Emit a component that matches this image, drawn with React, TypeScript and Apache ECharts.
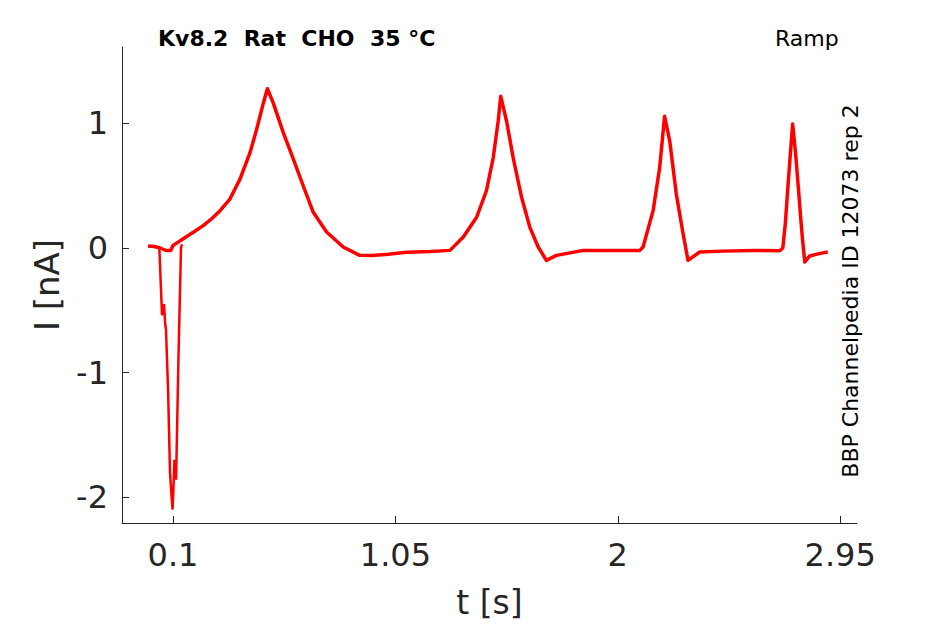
import React, { useEffect, useRef } from "react";
import * as echarts from "echarts";

// Main current trace (t in s, I in nA)
const traceT = [
  -0.007, 0.02, 0.045, 0.07, 0.09, 0.1, 0.12, 0.144, 0.19, 0.229, 0.265, 0.301,
  0.343, 0.386, 0.429, 0.457, 0.486, 0.503, 0.528, 0.571, 0.614, 0.656, 0.699,
  0.756, 0.827, 0.897, 0.95, 1.02, 1.098, 1.2, 1.283, 1.34, 1.397, 1.439, 1.468,
  1.489, 1.5, 1.525, 1.553, 1.589, 1.624, 1.66, 1.695, 1.738, 1.852, 1.98,
  2.094, 2.108, 2.151, 2.179, 2.2, 2.222, 2.25, 2.279, 2.3, 2.35, 2.45, 2.58,
  2.692, 2.705, 2.716, 2.726, 2.737, 2.747, 2.76, 2.772, 2.782, 2.789, 2.799,
  2.82, 2.86, 2.897,
];
const traceI = [
  0.016, 0.012, 0.0, -0.02, -0.02, 0.02, 0.045, 0.074, 0.13, 0.18, 0.235, 0.3,
  0.393, 0.553, 0.766, 0.952, 1.165, 1.279, 1.165, 0.926, 0.713, 0.5, 0.287,
  0.128, 0.008, -0.059, -0.06, -0.05, -0.034, -0.028, -0.019, 0.088, 0.247,
  0.46, 0.726, 1.018, 1.218, 1.018, 0.726, 0.407, 0.168, 0.008, -0.099, -0.059,
  -0.019, -0.02, -0.019, 0.008, 0.3, 0.646, 1.058, 0.859, 0.433, 0.114, -0.099,
  -0.032, -0.025, -0.02, -0.022, 0.0, 0.2, 0.47, 0.75, 0.996, 0.75, 0.47, 0.23,
  0.072, -0.112, -0.064, -0.045, -0.032,
];

// Fast inward artifact at the start of the sweep
const artifactT = [
  0.02, 0.0415, 0.053, 0.0616, 0.066, 0.07, 0.079, 0.087, 0.094, 0.098, 0.102,
  0.106, 0.113, 0.123, 0.134, 0.138,
];
const artifactI = [
  0.012, 0.0, -0.54, -0.45, -0.6, -0.66, -1.15, -1.8, -2.0, -2.1, -1.92, -1.7,
  -1.86, -0.9, 0.0, 0.03,
];

const xTicks = [0.1, 1.05, 2, 2.95];
const yTicks = [-2, -1, 0, 1];

const titleText = "Kv8.2  Rat  CHO  35 °C";
const protocolText = "Ramp";
const sideText = "BBP Channelpedia ID 12073 rep 2";

const FONT = "DejaVu Sans";
const AX = "#262626";

export default function App() {
  const ref = useRef<HTMLDivElement>(null);
  useEffect(() => {
    if (!ref.current) return;
    const chart = echarts.init(ref.current, undefined, { renderer: "svg" });
    const trace = traceT.map((t, i) => [t, traceI[i]]);
    const artifact = artifactT.map((t, i) => [t, artifactI[i]]);
    chart.setOption({
      animation: false,
      backgroundColor: "#ffffff",
      grid: { left: 122, top: 47, right: 88, bottom: 98, containLabel: false },
      xAxis: {
        type: "value",
        min: -0.118,
        max: 3.022,
        name: "t [s]",
        nameLocation: "middle",
        nameGap: 63,
        nameTextStyle: { fontFamily: FONT, fontSize: 33, color: AX },
        axisLine: { show: true, onZero: false, lineStyle: { color: AX, width: 1 } },
        axisTick: { show: true, inside: true, length: 7, customValues: xTicks, lineStyle: { color: AX } },
        axisLabel: {
          customValues: xTicks,
          margin: 16,
          fontFamily: FONT,
          fontSize: 32,
          color: AX,
          formatter: (v: number) => String(v),
        },
        splitLine: { show: false },
      },
      yAxis: {
        type: "value",
        min: -2.208,
        max: 1.614,
        name: "I [nA]",
        nameLocation: "middle",
        nameGap: 58,
        nameTextStyle: { fontFamily: FONT, fontSize: 34, color: AX },
        axisLine: { show: true, onZero: false, lineStyle: { color: AX, width: 1 } },
        axisTick: { show: true, inside: true, length: 7, customValues: yTicks, lineStyle: { color: AX } },
        axisLabel: {
          customValues: yTicks,
          margin: 14,
          fontFamily: FONT,
          fontSize: 32,
          color: AX,
          formatter: (v: number) => String(v),
        },
        splitLine: { show: false },
      },
      graphic: [
        {
          type: "text",
          left: 158,
          top: 27,
          style: { text: titleText, font: `bold 22px "${FONT}"`, fill: "#000000" },
        },
        {
          type: "text",
          left: 775,
          top: 27,
          style: { text: protocolText, font: `22px "${FONT}"`, fill: "#000000" },
        },
        {
          type: "text",
          x: 850,
          y: 291,
          rotation: Math.PI / 2,
          style: {
            text: sideText,
            font: `22px "${FONT}"`,
            fill: "#000000",
            align: "center",
            verticalAlign: "middle",
          },
        },
      ],
      series: [
        {
          type: "line",
          data: trace,
          showSymbol: false,
          lineStyle: { color: "#ff0000", width: 3.5, join: "round" },
          z: 3,
        },
        {
          type: "line",
          data: artifact,
          showSymbol: false,
          lineStyle: { color: "#ff0000", width: 2.5 },
          z: 3,
        },
      ],
    });
    return () => chart.dispose();
  }, []);
  return (
    <div
      ref={ref}
      style={{ position: "fixed", left: 0, top: 0, width: 945, height: 624 }}
    />
  );
}
